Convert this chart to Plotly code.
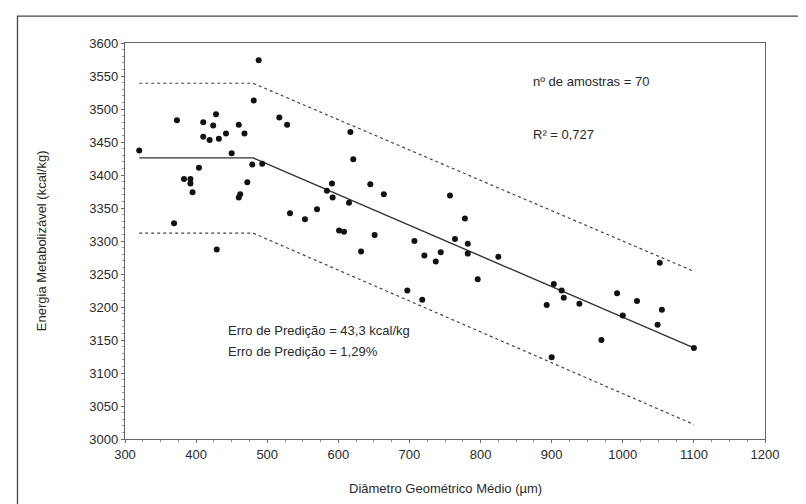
import plotly.graph_objects as go

# Observed samples: geometric mean diameter (µm) and metabolizable energy (kcal/kg)
dgm = [320, 373, 410, 428, 424, 410, 419, 432, 442, 460, 468, 450, 481, 488, 479,
       493, 404, 383, 392, 392, 395, 472, 462, 460, 517, 528, 532, 553, 570, 591,
       584, 592, 369, 429, 601, 608, 617, 621, 615, 645, 664, 757, 778, 651, 632,
       707, 721, 744, 737, 764, 782, 782, 825, 796, 697, 718, 903, 914, 917, 893,
       939, 900, 1052, 992, 1020, 1055, 1000, 1049, 970, 1100]
energia = [3437, 3483, 3480, 3492, 3475, 3458, 3453, 3455, 3463, 3476, 3463, 3433,
           3513, 3574, 3416, 3417, 3411, 3394, 3394, 3387, 3374, 3389, 3371, 3366,
           3487, 3476, 3342, 3333, 3348, 3387, 3376, 3366, 3327, 3287, 3316, 3314,
           3465, 3424, 3358, 3386, 3371, 3369, 3334, 3309, 3284, 3300, 3278, 3283,
           3269, 3303, 3296, 3281, 3276, 3242, 3225, 3211, 3235, 3225, 3214, 3203,
           3205, 3124, 3267, 3221, 3209, 3196, 3187, 3173, 3150, 3138]

# Fitted plateau-linear model and prediction band (breakpoints)
fit_x = [320, 480, 1100]
fit_y = [3426, 3426, 3138]
upper_y = [3539, 3539, 3254]
lower_y = [3312, 3312, 3022]

x_ticks = [300, 400, 500, 600, 700, 800, 900, 1000, 1100, 1200]
y_ticks = [3000, 3050, 3100, 3150, 3200, 3250, 3300, 3350, 3400, 3450, 3500, 3550, 3600]

FONT = "Liberation Sans, Arial, sans-serif"
TXT = "#2a2a2a"

fig = go.Figure()
fig.add_trace(go.Scatter(x=fit_x, y=upper_y, mode="lines",
                         line=dict(color="#444", width=1.2, dash="dot"), hoverinfo="skip"))
fig.add_trace(go.Scatter(x=fit_x, y=lower_y, mode="lines",
                         line=dict(color="#444", width=1.2, dash="dot"), hoverinfo="skip"))
fig.add_trace(go.Scatter(x=fit_x, y=fit_y, mode="lines",
                         line=dict(color="#333", width=1.4), hoverinfo="skip"))
fig.add_trace(go.Scatter(x=dgm, y=energia, mode="markers",
                         marker=dict(color="#111", size=6)))

axis_common = dict(showline=True, linecolor="#666", linewidth=1.3, mirror=True,
                   ticks="outside", ticklen=3, tickcolor="#666", showgrid=False,
                   zeroline=False, tickfont=dict(family=FONT, size=13, color=TXT))

fig.update_xaxes(range=[300, 1200], tickvals=x_ticks, ticktext=[str(v) for v in x_ticks],
                 minor=dict(dtick=25, ticks="outside", ticklen=2, tickcolor="#888"),
                 **axis_common)
fig.update_yaxes(range=[3000, 3600], tickvals=y_ticks, ticktext=[str(v) for v in y_ticks],
                 minor=dict(dtick=10, ticks="outside", ticklen=2, tickcolor="#999"),
                 **axis_common)

ann_font = dict(family=FONT, size=13, color=TXT)
fig.update_layout(
    width=806, height=504,
    margin=dict(l=117, r=49, t=35, b=73),
    plot_bgcolor="white", paper_bgcolor="white",
    showlegend=False,
    annotations=[
        dict(text="nº de amostras = 70", x=0.634, y=0.904, xref="paper", yref="paper",
             xanchor="left", yanchor="middle", showarrow=False, font=ann_font),
        dict(text="R² = 0,727", x=0.634, y=0.770, xref="paper", yref="paper",
             xanchor="left", yanchor="middle", showarrow=False, font=ann_font),
        dict(text="Erro de Predição = 43,3 kcal/kg", x=0.158, y=0.273, xref="paper",
             yref="paper", xanchor="left", yanchor="middle", showarrow=False, font=ann_font),
        dict(text="Erro de Predição = 1,29%", x=0.158, y=0.222, xref="paper",
             yref="paper", xanchor="left", yanchor="middle", showarrow=False, font=ann_font),
        dict(text="Energia Metabolizável (kcal/kg)", x=-0.131, y=0.5, xref="paper",
             yref="paper", xanchor="center", yanchor="middle", textangle=-90,
             showarrow=False, font=ann_font),
        dict(text="Diâmetro Geométrico Médio (µm)", x=0.5, y=-0.124, xref="paper",
             yref="paper", xanchor="center", yanchor="middle", showarrow=False,
             font=ann_font),
    ],
    shapes=[
        dict(type="rect", xref="paper", yref="paper", x0=-0.168, x1=1.06, y0=-0.2, y1=1.068,
             line=dict(color="#444", width=1.3), fillcolor="rgba(0,0,0,0)", layer="below"),
    ],
)

fig.write_html("out.html")
